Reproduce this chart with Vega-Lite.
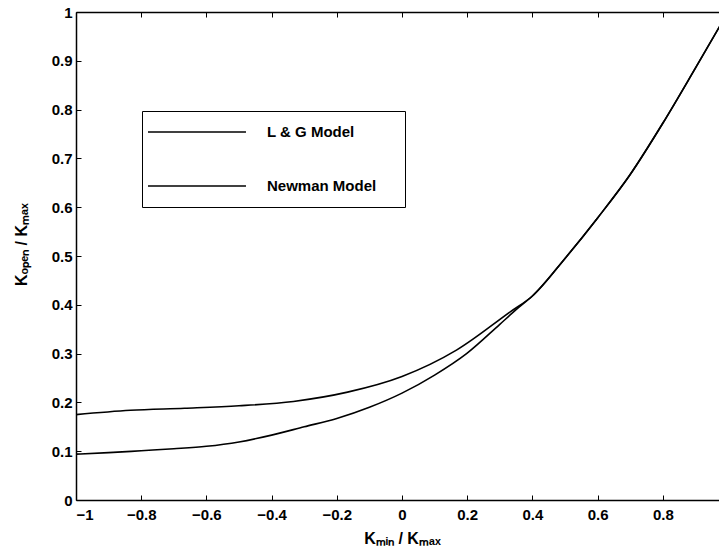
{
  "$schema": "https://vega.github.io/schema/vega-lite/v6.json",
  "width": 652,
  "height": 488,
  "autosize": {"type": "none"},
  "padding": {"left": 76, "top": 12, "right": 0, "bottom": 58},
  "background": "white",
  "config": {
    "view": {"stroke": null},
    "font": "Liberation Sans",
    "axis": {
      "domainColor": "black",
      "domainWidth": 1.5,
      "tickColor": "black",
      "tickWidth": 1,
      "tickSize": -5,
      "grid": false,
      "labelColor": "black",
      "labelFont": "Liberation Sans",
      "labelFontSize": 15,
      "labelFontWeight": "bold",
      "titleColor": "black",
      "titleFont": "Liberation Sans",
      "titleFontSize": 16,
      "titleFontWeight": "bold"
    }
  },
  "datasets": {
    "curves": [
      {"x": -1.0, "y": 0.175, "model": "L & G Model"},
      {"x": -0.833, "y": 0.184, "model": "L & G Model"},
      {"x": -0.667, "y": 0.188, "model": "L & G Model"},
      {"x": -0.5, "y": 0.193, "model": "L & G Model"},
      {"x": -0.333, "y": 0.202, "model": "L & G Model"},
      {"x": -0.167, "y": 0.221, "model": "L & G Model"},
      {"x": 0.0, "y": 0.253, "model": "L & G Model"},
      {"x": 0.167, "y": 0.307, "model": "L & G Model"},
      {"x": 0.333, "y": 0.386, "model": "L & G Model"},
      {"x": 0.4, "y": 0.418, "model": "L & G Model"},
      {"x": 0.5, "y": 0.495, "model": "L & G Model"},
      {"x": 0.6, "y": 0.578, "model": "L & G Model"},
      {"x": 0.7, "y": 0.667, "model": "L & G Model"},
      {"x": 0.8, "y": 0.772, "model": "L & G Model"},
      {"x": 0.9, "y": 0.885, "model": "L & G Model"},
      {"x": 1.0, "y": 1.0, "model": "L & G Model"},
      {"x": -1.0, "y": 0.094, "model": "Newman Model"},
      {"x": -0.9, "y": 0.097, "model": "Newman Model"},
      {"x": -0.8, "y": 0.101, "model": "Newman Model"},
      {"x": -0.7, "y": 0.105, "model": "Newman Model"},
      {"x": -0.6, "y": 0.110, "model": "Newman Model"},
      {"x": -0.5, "y": 0.119, "model": "Newman Model"},
      {"x": -0.4, "y": 0.133, "model": "Newman Model"},
      {"x": -0.3, "y": 0.150, "model": "Newman Model"},
      {"x": -0.2, "y": 0.167, "model": "Newman Model"},
      {"x": -0.1, "y": 0.190, "model": "Newman Model"},
      {"x": 0.0, "y": 0.219, "model": "Newman Model"},
      {"x": 0.1, "y": 0.256, "model": "Newman Model"},
      {"x": 0.2, "y": 0.301, "model": "Newman Model"},
      {"x": 0.3, "y": 0.360, "model": "Newman Model"},
      {"x": 0.35, "y": 0.390, "model": "Newman Model"},
      {"x": 0.4, "y": 0.418, "model": "Newman Model"},
      {"x": 0.5, "y": 0.495, "model": "Newman Model"},
      {"x": 0.6, "y": 0.578, "model": "Newman Model"},
      {"x": 0.7, "y": 0.667, "model": "Newman Model"},
      {"x": 0.8, "y": 0.772, "model": "Newman Model"},
      {"x": 0.9, "y": 0.885, "model": "Newman Model"},
      {"x": 1.0, "y": 1.0, "model": "Newman Model"}
    ]
  },
  "data": {"name": "curves"},
  "layer": [
    {
      "mark": {"type": "line", "strokeWidth": 1.6, "color": "black", "interpolate": "monotone"},
      "encoding": {
        "x": {
          "field": "x",
          "type": "quantitative",
          "scale": {"domain": [-1, 1], "nice": false},
          "axis": {
            "orient": "bottom",
            "values": [-1, -0.8, -0.6, -0.4, -0.2, 0, 0.2, 0.4, 0.6, 0.8],
            "format": "~g",
            "labelPadding": 12,
            "title": "Kₘᵢₙ / Kₘₐₓ",
            "titlePadding": 8
          }
        },
        "y": {
          "field": "y",
          "type": "quantitative",
          "scale": {"domain": [0, 1], "nice": false},
          "axis": {
            "orient": "left",
            "values": [0, 0.1, 0.2, 0.3, 0.4, 0.5, 0.6, 0.7, 0.8, 0.9, 1],
            "format": "~g",
            "labelPadding": 9,
            "title": "Kₒₚₑₙ / Kₘₐₓ",
            "titlePadding": 22,
            "titleY": 232
          }
        },
        "stroke": {
          "field": "model",
          "type": "nominal",
          "scale": {"range": ["black", "black"]},
          "legend": {
            "orient": "none",
            "legendX": 66,
            "legendY": 99,
            "title": null,
            "symbolType": "stroke",
            "symbolSize": 10600,
            "symbolStrokeWidth": 1.6,
            "clipHeight": 30,
            "rowPadding": 24,
            "padding": 6,
            "symbolOffset": -6,
            "labelOffset": 20,
            "labelLimit": 300,
            "labelFont": "Liberation Sans",
            "labelFontSize": 15,
            "labelFontWeight": "bold",
            "labelColor": "black",
            "labelExpr": "datum.label + '\u2800\u2800'",
            "strokeColor": "black",
            "fillColor": "white"
          }
        }
      }
    },
    {
      "mark": {"type": "line", "strokeOpacity": 0},
      "encoding": {
        "x": {
          "field": "x",
          "type": "quantitative",
          "axis": {
            "orient": "top",
            "values": [-1, -0.8, -0.6, -0.4, -0.2, 0, 0.2, 0.4, 0.6, 0.8, 1],
            "labels": false,
            "title": null
          }
        },
        "y": {
          "field": "y",
          "type": "quantitative",
          "axis": {
            "orient": "right",
            "values": [0, 0.1, 0.2, 0.3, 0.4, 0.5, 0.6, 0.7, 0.8, 0.9, 1],
            "labels": false,
            "title": null
          }
        },
        "detail": {"field": "model", "type": "nominal"}
      }
    }
  ],
  "resolve": {"axis": {"x": "independent", "y": "independent"}}
}
